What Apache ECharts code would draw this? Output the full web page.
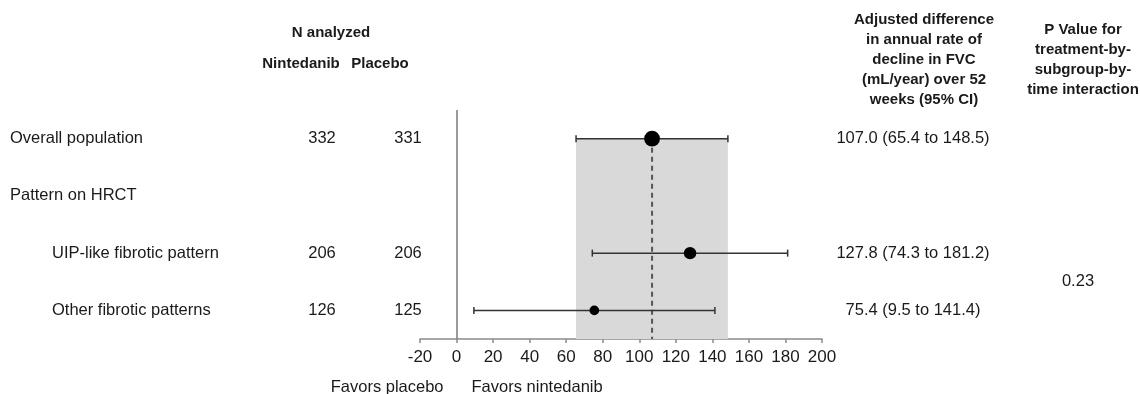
<!DOCTYPE html>
<html>
<head>
<meta charset="utf-8">
<script src="https://cdn.jsdelivr.net/npm/echarts@6/dist/echarts.min.js"></script>
<style>
html,body{margin:0;padding:0;background:#fff;}
#c{width:1140px;height:394px;}
</style>
</head>
<body>
<div id="c"></div>
<script>
// ---- data ----
const rowLabels = ["Overall population", "Pattern on HRCT", "UIP-like fibrotic pattern", "Other fibrotic patterns"];
const rowIndent = [0, 0, 1, 1];
const nNintedanib = [332, null, 206, 126];
const nPlacebo = [331, null, 206, 125];
const estimate = [107.0, null, 127.8, 75.4];
const ciLow = [65.4, null, 74.3, 9.5];
const ciHigh = [148.5, null, 181.2, 141.4];
const estText = ["107.0 (65.4 to 148.5)", "", "127.8 (74.3 to 181.2)", "75.4 (9.5 to 141.4)"];
const pInteraction = "0.23";
const pRows = [2, 3];
const xTicks = [-20, 0, 20, 40, 60, 80, 100, 120, 140, 160, 180, 200];
const headerN = "N analyzed";
const headerArms = ["Nintedanib", "Placebo"];
const headerEst = ["Adjusted difference", "in annual rate of", "decline in FVC", "(mL/year) over 52", "weeks (95% CI)"];
const headerP = ["P Value for", "treatment-by-", "subgroup-by-", "time interaction"];
const favorsLeft = "Favors placebo";
const favorsRight = "Favors nintedanib";

// ---- chart ----
const FONT = "'Liberation Sans', Arial, sans-serif";
const TXT = '#1a1a1a';
const chart = echarts.init(document.getElementById('c'), null, {renderer: 'canvas'});

const pointData = [];
const ciData = [];
estimate.forEach((v, i) => {
  if (v != null) {
    pointData.push({value: [v, i], symbolSize: 0.61 * Math.sqrt(nNintedanib[i] + nPlacebo[i])});
    ciData.push([ciLow[i], ciHigh[i], i]);
  }
});
const overall = estimate[0];

const option = {
  animation: false,
  grid: {left: 420, right: 318, top: 110, height: 229},
  xAxis: {
    type: 'value', min: xTicks[0], max: xTicks[xTicks.length - 1], interval: 20,
    splitLine: {show: false},
    axisLine: {onZero: false, lineStyle: {color: '#8a8a8a', width: 1.5}},
    axisTick: {show: true, length: 4, lineStyle: {color: '#8a8a8a', width: 1.5}},
    axisLabel: {color: TXT, fontSize: 17, fontFamily: FONT, margin: 10}
  },
  yAxis: {
    type: 'value', min: -0.5, max: 3.5, inverse: true,
    show: false, splitLine: {show: false}
  },
  series: [
    {
      type: 'line', data: [], silent: true,
      markArea: {
        silent: true,
        itemStyle: {color: '#d9d9d9'},
        data: [[{xAxis: ciLow[0], yAxis: 0}, {xAxis: ciHigh[0], yAxis: 3.5}]]
      },
      markLine: {
        silent: true, symbol: 'none', label: {show: false},
        lineStyle: {color: '#7a7a7a', width: 1.5, type: 'solid'},
        data: [{xAxis: 0}]
      }
    },
    {
      type: 'line', data: [[overall, 0], [overall, 3.5]], symbol: 'none', silent: true,
      lineStyle: {color: '#555555', width: 2, type: [5, 4]}, z: 3
    },
    {
      type: 'custom', z: 4, silent: true,
      data: ciData,
      renderItem: function (params, api) {
        const a = api.coord([api.value(0), api.value(2)]);
        const b = api.coord([api.value(1), api.value(2)]);
        const h = 3.5;
        const st = {stroke: '#333333', lineWidth: 1.5};
        return {
          type: 'group', children: [
            {type: 'line', shape: {x1: a[0], y1: a[1], x2: b[0], y2: b[1]}, style: st},
            {type: 'line', shape: {x1: a[0], y1: a[1] - h, x2: a[0], y2: a[1] + h}, style: st},
            {type: 'line', shape: {x1: b[0], y1: b[1] - h, x2: b[0], y2: b[1] + h}, style: st}
          ]
        };
      }
    },
    {
      type: 'scatter', z: 5, silent: true, data: pointData,
      itemStyle: {color: '#000000', opacity: 1}
    }
  ]
};
chart.setOption(option);

// ---- table text placed with the chart's y scale ----
function rowY(i) { return chart.convertToPixel({yAxisIndex: 0}, i); }
const tStyle = (extra) => Object.assign({fill: TXT, fontSize: 16.5, fontFamily: FONT, verticalAlign: 'middle'}, extra);
const g = [];
rowLabels.forEach((t, i) => {
  const y = rowY(i);
  g.push({type: 'text', x: rowIndent[i] ? 52 : 10, y: y, style: tStyle({text: t, align: 'left'})});
  if (nNintedanib[i] != null) g.push({type: 'text', x: 322, y: y, style: tStyle({text: String(nNintedanib[i]), align: 'center'})});
  if (nPlacebo[i] != null) g.push({type: 'text', x: 408, y: y, style: tStyle({text: String(nPlacebo[i]), align: 'center'})});
  if (estText[i]) g.push({type: 'text', x: 913, y: y, style: tStyle({text: estText[i], align: 'center'})});
});
g.push({type: 'text', x: 1078, y: (rowY(pRows[0]) + rowY(pRows[1])) / 2, style: tStyle({text: pInteraction, align: 'center'})});
const bold = (t, x, y) => ({type: 'text', x: x, y: y, style: tStyle({text: t, align: 'center', fontWeight: 'bold', fontSize: 15})});
g.push(bold(headerN, 331, 33));
g.push(bold(headerArms[0], 301, 64));
g.push(bold(headerArms[1], 380, 64));
headerEst.forEach((t, k) => g.push(bold(t, 924, 20 + k * 20)));
headerP.forEach((t, k) => g.push(bold(t, 1083, 30 + k * 20)));
const zeroX = chart.convertToPixel({xAxisIndex: 0}, 0);
g.push({type: 'text', x: zeroX - 13, y: 387, style: tStyle({text: favorsLeft, align: 'right'})});
g.push({type: 'text', x: zeroX + 15, y: 387, style: tStyle({text: favorsRight, align: 'left'})});
chart.setOption({graphic: g});
</script>
</body>
</html>
